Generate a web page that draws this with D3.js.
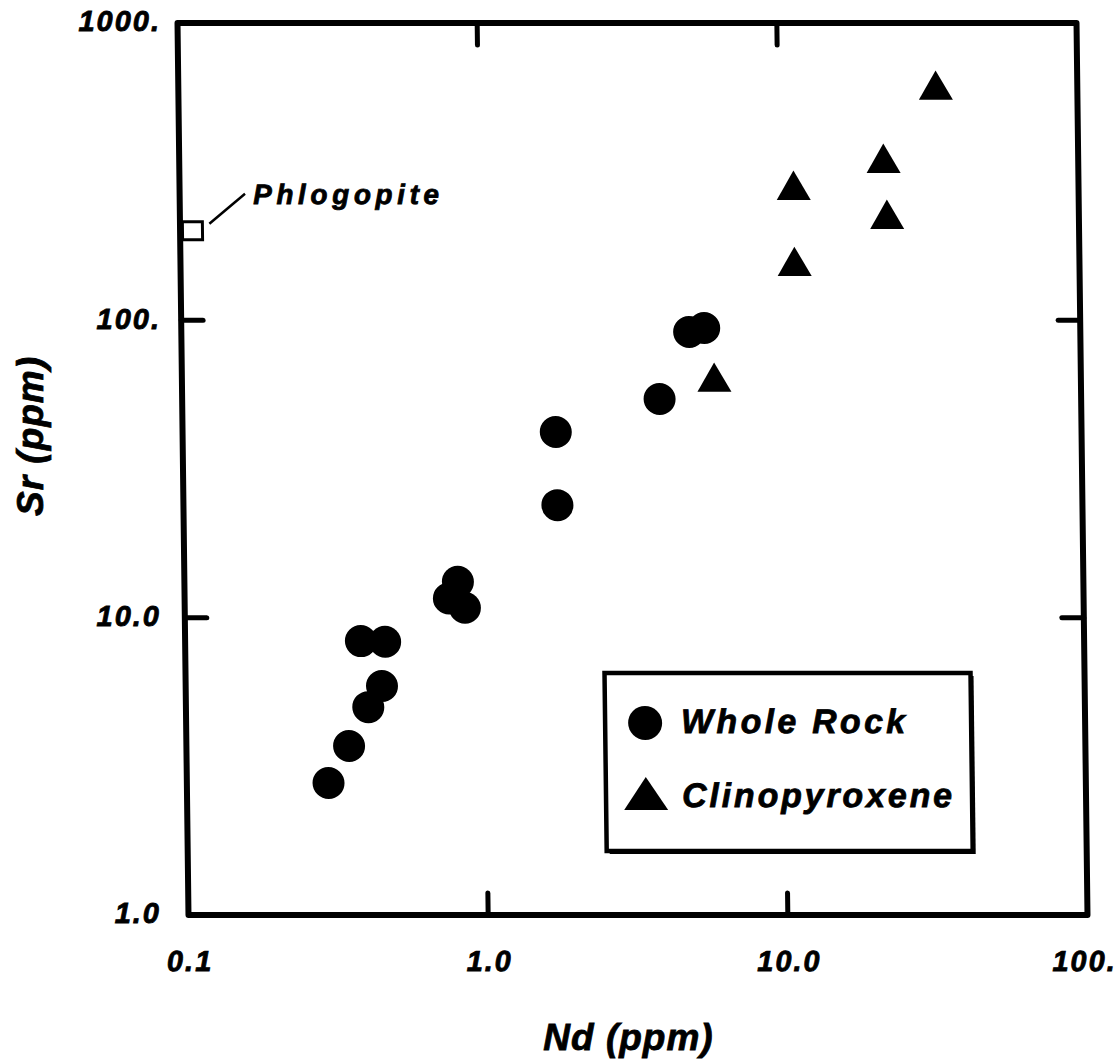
<!DOCTYPE html>
<html>
<head>
<meta charset="utf-8">
<script src="https://cdn.jsdelivr.net/npm/d3@7"></script>
<style>
  html, body { margin: 0; padding: 0; background: #fff; }
  svg { display: block; }
  text { font-family: "Liberation Sans", Arial, Helvetica, sans-serif; font-weight: bold; font-style: italic; fill: #000; stroke: #000; stroke-width: 0.8px; }
</style>
</head>
<body>
<svg id="chart" width="1120" height="1064"></svg>
<script>
// ---- data ----
const wholeRockNd = [0.297, 0.349, 0.406, 0.386, 0.465, 0.452, 0.762, 0.818, 0.861, 1.76, 1.77, 3.92, 4.95, 5.56];
const wholeRockSr = [2.78, 3.70, 5.0, 8.34, 8.3, 5.89, 11.6, 13.2, 10.8, 42.1, 23.9, 54.4, 91.4, 94.2];
const cpxNd = [5.98, 11.2, 11.2, 22.4, 22.9, 33.7];
const cpxSr = [62, 152, 274, 338, 219, 595];
const phlogopiteNd = [0.11];
const phlogopiteSr = [200];
const xTickValues = [0.1, 1, 10, 100];
const xTickLabels = ["0.1", "1.0", "10.0", "100."];
const yTickValues = [1, 10, 100, 1000];
const yTickLabels = ["1.0", "10.0", "100.", "1000."];
const legendLabels = ["Whole Rock", "Clinopyroxene"];

// ---- layout ----
const W = 1120;
const L = 183, R = 1082, T = 23, B = 915;
const x = d3.scaleLog().domain([0.1, 100]).range([L, R]);
const y = d3.scaleLog().domain([1, 1000]).range([B, T]);

const svg = d3.select("#chart");
// the scanned original is slightly sheared; reproduce it
const k = 0.0123, yMid = (T + B) / 2;
const g = svg.append("g")
  .attr("transform", `translate(${-k * yMid},0) skewX(${Math.atan(k) * 180 / Math.PI})`);

// frame
g.append("rect").attr("x", L).attr("y", T).attr("width", R - L).attr("height", B - T)
  .attr("fill", "none").attr("stroke", "#000").attr("stroke-width", 6).attr("stroke-linejoin", "round");

// ticks (inward, interior decades only)
const tickLen = 22;
const innerX = xTickValues.slice(1, -1), innerY = yTickValues.slice(1, -1);
innerX.forEach(v => {
  g.append("line").attr("x1", x(v)).attr("x2", x(v)).attr("y1", B).attr("y2", B - tickLen)
    .attr("stroke", "#000").attr("stroke-width", 5).attr("stroke-linecap", "round");
  g.append("line").attr("x1", x(v)).attr("x2", x(v)).attr("y1", T).attr("y2", T + tickLen)
    .attr("stroke", "#000").attr("stroke-width", 5).attr("stroke-linecap", "round");
});
innerY.forEach(v => {
  g.append("line").attr("x1", L).attr("x2", L + tickLen).attr("y1", y(v)).attr("y2", y(v))
    .attr("stroke", "#000").attr("stroke-width", 5).attr("stroke-linecap", "round");
  g.append("line").attr("x1", R).attr("x2", R - tickLen).attr("y1", y(v)).attr("y2", y(v))
    .attr("stroke", "#000").attr("stroke-width", 5).attr("stroke-linecap", "round");
});

// x tick labels (in sheared group)
const xl = g.selectAll(".xl").data(xTickValues).join("text")
  .attr("class", "xl")
  .attr("x", d => x(d) + 1).attr("y", B + 56)
  .attr("text-anchor", "middle").attr("font-size", 29).attr("letter-spacing", 2)
  .text((d, i) => xTickLabels[i]);
// keep labels inside the page
xl.each(function () {
  const bb = this.getBoundingClientRect();
  if (bb.right > W - 3) {
    d3.select(this).attr("x", +d3.select(this).attr("x") - (bb.right - (W - 3)));
  }
});

// y tick labels (not sheared)
svg.selectAll(".yl").data(yTickValues).join("text")
  .attr("class", "yl")
  .attr("x", 161).attr("y", d => y(d) - 2).attr("dy", "0.36em")
  .attr("text-anchor", "end").attr("font-size", 29).attr("letter-spacing", 2)
  .text((d, i) => yTickLabels[i]);

// axis titles
svg.append("text").attr("x", (L + R) / 2 - 4).attr("y", 1050)
  .attr("text-anchor", "middle").attr("font-size", 37).attr("letter-spacing", 1).text("Nd (ppm)");
svg.append("text").attr("transform", `translate(43,436) rotate(-90)`)
  .attr("text-anchor", "middle").attr("font-size", 37).attr("letter-spacing", 1).text("Sr (ppm)");

// whole rock circles
const wr = wholeRockNd.map((d, i) => ({ nd: d, sr: wholeRockSr[i] }));
g.selectAll(".wr").data(wr).join("circle")
  .attr("cx", d => x(d.nd)).attr("cy", d => y(d.sr)).attr("r", 16).attr("fill", "#000");

// clinopyroxene triangles
const cpx = cpxNd.map((d, i) => ({ nd: d, sr: cpxSr[i] }));
const tri = d3.symbol(d3.symbolTriangle, 500);
g.selectAll(".cpx").data(cpx).join("path")
  .attr("d", tri).attr("transform", d => `translate(${x(d.nd)},${y(d.sr)})`).attr("fill", "#000");

// phlogopite
const ph = phlogopiteNd.map((d, i) => ({ nd: d, sr: phlogopiteSr[i] }));
ph.forEach(d => {
  const px = x(d.nd), py = y(d.sr);
  g.append("rect").attr("x", px - 10).attr("y", py - 9).attr("width", 20).attr("height", 18)
    .attr("fill", "#fff").attr("stroke", "#000").attr("stroke-width", 3);
  g.append("line").attr("x1", px + 17).attr("y1", py - 7).attr("x2", px + 53).attr("y2", py - 37)
    .attr("stroke", "#000").attr("stroke-width", 2.5);
  g.append("text").attr("x", px + 61).attr("y", py - 27).attr("font-size", 28)
    .attr("textLength", 186).attr("lengthAdjust", "spacing").text("Phlogopite");
});

// legend
const lg = g.append("g");
const lx = 602, ly = 673, lw = 366, lh = 178;
lg.append("rect").attr("x", lx + 3).attr("y", ly + 3).attr("width", lw).attr("height", lh).attr("fill", "#000");
lg.append("rect").attr("x", lx).attr("y", ly).attr("width", lw).attr("height", lh)
  .attr("fill", "#fff").attr("stroke", "#000").attr("stroke-width", 4.5);
lg.append("circle").attr("cx", lx + 40).attr("cy", ly + 50).attr("r", 17).attr("fill", "#000");
lg.append("path").attr("d", `M${lx + 40},${ly + 104} L${lx + 62},${ly + 137} L${lx + 18},${ly + 137} Z`).attr("fill", "#000");
lg.append("text").attr("x", lx + 76).attr("y", ly + 60).attr("font-size", 34)
  .attr("textLength", 224).attr("lengthAdjust", "spacing").text(legendLabels[0]);
lg.append("text").attr("x", lx + 76).attr("y", ly + 134).attr("font-size", 34)
  .attr("textLength", 270).attr("lengthAdjust", "spacing").text(legendLabels[1]);
</script>
</body>
</html>
